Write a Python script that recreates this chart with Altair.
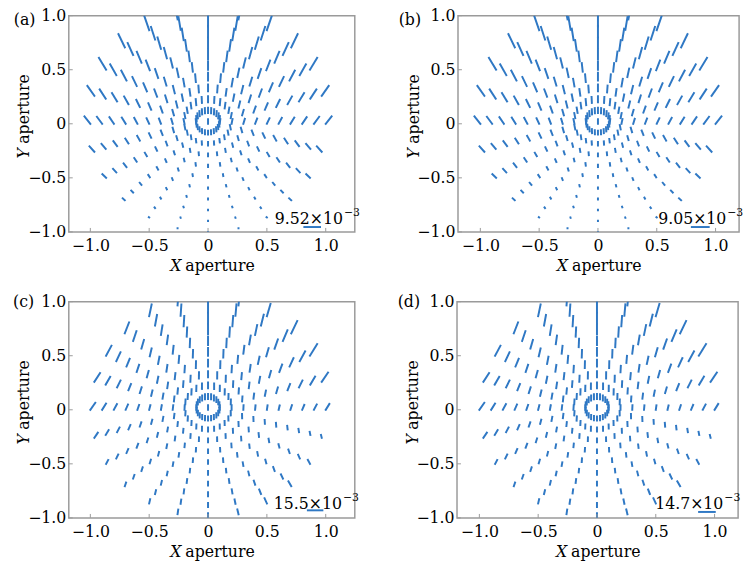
import math
import altair as alt
import pandas as pd

# ---------------- data ----------------
RINGS = [0.1, 0.2, 0.3, 0.4, 0.5, 0.6, 0.7, 0.8, 0.9, 1.0]
SPOKES = list(range(0, 360, 15))          # field angle of each column (deg)
TICKS = [-1.0, -0.5, 0.0, 0.5, 1.0]

# astigmatism components (cos2phi, sin2phi) in display units; rows = rings, cols = spokes
# panels (a) and (b)
AB_C1 = [
    [-5.0, -5.2, -5.4, -5.5, -5.7, -5.7, -5.8, -5.7, -5.7, -5.5, -5.4, -5.2, -5.0, -4.8, -4.6, -4.5, -4.4, -4.3, -4.3, -4.3, -4.4, -4.5, -4.6, -4.8],
    [-4.9, -5.3, -5.7, -6.1, -6.4, -6.5, -6.6, -6.5, -6.4, -6.1, -5.7, -5.3, -4.9, -4.5, -4.2, -4.0, -3.8, -3.6, -3.6, -3.6, -3.8, -4.0, -4.2, -4.5],
    [-4.8, -5.4, -6.1, -6.6, -7.1, -7.4, -7.5, -7.4, -7.1, -6.6, -6.1, -5.4, -4.8, -4.3, -3.8, -3.4, -3.2, -3.0, -3.0, -3.0, -3.2, -3.4, -3.8, -4.3],
    [-4.7, -5.5, -6.4, -7.2, -7.8, -8.3, -8.4, -8.3, -7.8, -7.2, -6.4, -5.5, -4.7, -4.0, -3.4, -2.9, -2.6, -2.5, -2.4, -2.5, -2.6, -2.9, -3.4, -4.0],
    [-4.5, -5.5, -6.7, -7.7, -8.6, -9.2, -9.4, -9.2, -8.6, -7.7, -6.7, -5.5, -4.5, -3.6, -2.9, -2.4, -2.1, -1.9, -1.9, -1.9, -2.1, -2.4, -2.9, -3.6],
    [-4.3, -5.6, -6.9, -8.3, -9.4, -10.1, -10.4, -10.1, -9.4, -8.3, -6.9, -5.6, -4.3, -3.2, -2.4, -1.9, -1.6, -1.4, -1.4, -1.4, -1.6, -1.9, -2.4, -3.2],
    [-4.0, -5.5, -7.2, -8.8, -10.2, -11.2, -11.5, -11.2, -10.2, -8.8, -7.2, -5.5, -4.0, -2.8, -2.0, -1.4, -1.1, -1.0, -1.0, -1.0, -1.1, -1.4, -2.0, -2.8],
    [-3.7, -5.5, -7.4, -9.4, -11.1, -12.2, -12.6, -12.2, -11.1, -9.4, -7.4, -5.5, -3.7, -2.4, -1.4, -0.9, -0.7, -0.6, -0.6, -0.6, -0.7, -0.9, -1.4, -2.4],
    [-3.4, -5.4, -7.7, -10.0, -12.0, -13.3, -13.8, -13.3, -12.0, -10.0, -7.7, -5.4, -3.4, -1.9, -0.9, -0.4, -0.3, -0.3, -0.3, -0.3, -0.3, -0.4, -0.9, -1.9],
    [-3.0, -5.2, -7.9, -10.6, -12.9, -14.5, -15.0, -14.5, -12.9, -10.6, -7.9, -5.2, -3.0, -1.4, -0.4, 0.0, 0.1, 0.0, 0.0, 0.0, 0.1, 0.0, -0.4, -1.4],
]
AB_C2 = [
    [1.0, 1.0, 0.9, 0.7, 0.5, 0.3, 0.0, -0.3, -0.5, -0.7, -0.9, -1.0, -1.0, -0.9, -0.8, -0.6, -0.4, -0.2, 0.0, -0.2, -0.4, -0.6, -0.8, -0.9],
    [1.9, 1.9, 1.8, 1.5, 1.1, 0.6, 0.0, -0.6, -1.1, -1.5, -1.8, -1.9, -1.9, -1.7, -1.5, -1.1, -0.8, -0.4, 0.0, -0.4, -0.8, -1.1, -1.5, -1.7],
    [2.9, 3.0, 2.9, 2.5, 1.8, 1.0, 0.0, -1.0, -1.8, -2.5, -2.9, -3.0, -2.9, -2.5, -2.1, -1.6, -1.0, -0.5, 0.0, -0.5, -1.0, -1.6, -2.1, -2.5],
    [3.8, 4.1, 4.0, 3.5, 2.6, 1.4, 0.0, -1.4, -2.6, -3.5, -4.0, -4.1, -3.8, -3.3, -2.6, -1.9, -1.2, -0.6, 0.0, -0.6, -1.2, -1.9, -2.6, -3.3],
    [4.8, 5.2, 5.2, 4.6, 3.5, 1.9, 0.0, -1.9, -3.5, -4.6, -5.2, -5.2, -4.8, -4.0, -3.1, -2.2, -1.3, -0.6, 0.0, -0.6, -1.3, -2.2, -3.1, -4.0],
    [5.7, 6.4, 6.5, 5.8, 4.4, 2.4, 0.0, -2.4, -4.4, -5.8, -6.5, -6.4, -5.7, -4.7, -3.6, -2.4, -1.3, -0.6, 0.0, -0.6, -1.3, -2.4, -3.6, -4.7],
    [6.7, 7.7, 7.9, 7.2, 5.5, 3.0, 0.0, -3.0, -5.5, -7.2, -7.9, -7.7, -6.7, -5.4, -4.1, -2.6, -1.2, -0.5, 0.0, -0.5, -1.2, -2.6, -4.1, -5.4],
    [7.6, 8.9, 9.4, 8.6, 6.6, 3.6, 0.0, -3.6, -6.6, -8.6, -9.4, -8.9, -7.6, -6.1, -4.6, -2.8, -1.0, -0.4, 0.0, -0.4, -1.0, -2.8, -4.6, -6.1],
    [8.6, 10.3, 10.9, 10.1, 7.8, 4.2, 0.0, -4.2, -7.8, -10.1, -10.9, -10.3, -8.6, -6.8, -5.0, -2.9, -0.8, -0.2, 0.0, -0.2, -0.8, -2.9, -5.0, -6.8],
    [9.5, 11.7, 12.6, 11.7, 9.1, 5.0, 0.0, -5.0, -9.1, -11.7, -12.6, -11.7, -9.5, -7.5, -5.5, -3.0, -0.4, 0.0, 0.0, 0.0, -0.4, -3.0, -5.5, -7.5],
]
AB_CENTER = [-5.0, 0.0]

# panels (c) and (d)
CD_C1 = [
    [-5.0, -5.1, -5.2, -5.3, -5.4, -5.5, -5.5, -5.5, -5.4, -5.3, -5.2, -5.1, -5.0, -4.9, -4.8, -4.7, -4.6, -4.6, -4.6, -4.6, -4.6, -4.7, -4.8, -4.9],
    [-5.0, -5.2, -5.5, -5.7, -5.9, -6.0, -6.1, -6.0, -5.9, -5.7, -5.5, -5.2, -5.0, -4.7, -4.6, -4.4, -4.3, -4.3, -4.3, -4.3, -4.3, -4.4, -4.6, -4.7],
    [-4.9, -5.3, -5.7, -6.1, -6.5, -6.7, -6.8, -6.7, -6.5, -6.1, -5.7, -5.3, -4.9, -4.6, -4.3, -4.2, -4.1, -4.1, -4.1, -4.1, -4.1, -4.2, -4.3, -4.6],
    [-4.8, -5.3, -5.9, -6.5, -7.1, -7.4, -7.5, -7.4, -7.1, -6.5, -5.9, -5.3, -4.8, -4.4, -4.1, -4.0, -3.9, -3.9, -3.9, -3.9, -3.9, -4.0, -4.1, -4.4],
    [-4.7, -5.4, -6.2, -7.0, -7.7, -8.2, -8.4, -8.2, -7.7, -7.0, -6.2, -5.4, -4.7, -4.2, -3.9, -3.8, -3.8, -3.9, -3.9, -3.9, -3.8, -3.8, -3.9, -4.2],
    [-4.5, -5.4, -6.4, -7.5, -8.4, -9.1, -9.3, -9.1, -8.4, -7.5, -6.4, -5.4, -4.5, -4.0, -3.7, -3.7, -3.8, -3.9, -3.9, -3.9, -3.8, -3.7, -3.7, -4.0],
    [-4.4, -5.4, -6.7, -8.0, -9.2, -10.1, -10.4, -10.1, -9.2, -8.0, -6.7, -5.4, -4.4, -3.7, -3.5, -3.6, -3.8, -4.0, -4.1, -4.0, -3.8, -3.6, -3.5, -3.7],
    [-4.2, -5.4, -6.9, -8.6, -10.1, -11.1, -11.5, -11.1, -10.1, -8.6, -6.9, -5.4, -4.2, -3.5, -3.3, -3.5, -3.8, -4.2, -4.3, -4.2, -3.8, -3.5, -3.3, -3.5],
    [-4.0, -5.3, -7.2, -9.2, -11.0, -12.3, -12.7, -12.3, -11.0, -9.2, -7.2, -5.3, -4.0, -3.2, -3.1, -3.4, -4.0, -4.4, -4.6, -4.4, -4.0, -3.4, -3.1, -3.2],
    [-3.7, -5.3, -7.4, -9.8, -12.0, -13.5, -14.0, -13.5, -12.0, -9.8, -7.4, -5.3, -3.7, -2.9, -2.9, -3.4, -4.2, -4.8, -5.0, -4.8, -4.2, -3.4, -2.9, -2.9],
]
CD_C2 = [
    [0.0, 0.0, 0.0, 0.0, 0.0, 0.0, 0.0, 0.0, 0.1, 0.2, 0.2, 0.2, 0.2, 0.2, 0.2, 0.1, 0.1, 0.1, 0.0, 0.0, -0.1, -0.1, -0.1, -0.1],
    [0.1, 0.2, 0.2, 0.2, 0.1, 0.0, 0.0, 0.1, 0.3, 0.4, 0.5, 0.5, 0.5, 0.5, 0.5, 0.4, 0.3, 0.1, 0.0, -0.1, -0.2, -0.2, -0.2, -0.1],
    [0.4, 0.6, 0.6, 0.5, 0.3, 0.1, 0.0, 0.2, 0.5, 0.8, 1.0, 1.0, 1.0, 1.0, 0.8, 0.7, 0.5, 0.2, 0.0, -0.2, -0.3, -0.3, -0.3, -0.2],
    [0.8, 1.2, 1.3, 1.1, 0.7, 0.3, 0.0, 0.3, 0.8, 1.3, 1.6, 1.7, 1.6, 1.5, 1.3, 1.0, 0.7, 0.4, 0.0, -0.3, -0.5, -0.5, -0.5, -0.3],
    [1.3, 2.0, 2.2, 1.9, 1.2, 0.5, 0.0, 0.5, 1.2, 1.9, 2.4, 2.5, 2.3, 2.1, 1.8, 1.4, 1.0, 0.5, 0.0, -0.5, -0.8, -0.8, -0.8, -0.4],
    [2.0, 3.1, 3.5, 3.0, 2.0, 0.8, 0.0, 0.7, 1.7, 2.7, 3.4, 3.5, 3.2, 2.8, 2.3, 1.8, 1.2, 0.7, 0.0, -0.7, -1.2, -1.3, -1.2, -0.6],
    [2.9, 4.6, 5.2, 4.5, 2.9, 1.1, 0.0, 0.9, 2.3, 3.6, 4.6, 4.7, 4.3, 3.6, 2.8, 2.1, 1.5, 0.9, 0.0, -1.0, -1.8, -1.9, -1.7, -0.8],
    [3.9, 6.3, 7.2, 6.2, 4.0, 1.5, 0.0, 1.2, 3.0, 4.8, 6.0, 6.2, 5.5, 4.4, 3.2, 2.3, 1.7, 1.0, 0.0, -1.3, -2.5, -2.7, -2.3, -1.0],
    [5.0, 8.3, 9.6, 8.4, 5.3, 2.0, 0.0, 1.5, 3.8, 6.3, 7.7, 7.9, 6.8, 5.1, 3.5, 2.4, 1.8, 1.2, 0.0, -1.7, -3.3, -3.7, -3.0, -1.2],
    [6.3, 10.7, 12.5, 10.9, 7.0, 2.6, 0.0, 1.8, 4.8, 8.0, 9.6, 9.8, 8.3, 5.9, 3.7, 2.4, 1.9, 1.3, 0.0, -2.2, -4.3, -5.0, -3.8, -1.4],
]
CD_CENTER = [-5.0, 0.0]

PANELS = ["(a)", "(b)", "(c)", "(d)"]
BAR_VALUES = ["9.52", "9.05", "15.5", "14.7"]

# ---------------- style ----------------
BLUE = "#2f78c4"
GRAY = "#9a9a9a"
FONT = "DejaVu Serif"
FS = 16
S = 1 / 118.0          # display units -> aperture units
H = 220
LABEL_EXPR = "datum.value == 0 ? '0' : format(datum.value, '.1f')"


def field_frame(c1_rows, c2_rows, center):
    pts = [(0.0, 0.0, center[0], center[1])]
    for i, r in enumerate(RINGS):
        for j, th in enumerate(SPOKES):
            t = math.radians(th)
            pts.append((r * math.cos(t), r * math.sin(t), c1_rows[i][j], c2_rows[i][j]))
    rows = []
    for x, y, c1, c2 in pts:
        L = math.hypot(c1, c2)
        phi = 0.5 * math.atan2(c2, c1)
        if phi < 0:
            phi += math.pi
        rows.append(dict(x=x, y=y, x2=x + L * S * math.cos(phi), y2=y + L * S * math.sin(phi)))
    return pd.DataFrame(rows)


def panel(tag, bar_text, df, W, xdom, bar, ann):
    xs = alt.Scale(domain=xdom, nice=False, zero=False)
    ys = alt.Scale(domain=[-1, 1], nice=False, zero=False)
    xax = alt.Axis(values=TICKS, labelExpr=LABEL_EXPR, ticks=False, domain=False, grid=False,
                   title=None, labelFont=FONT, labelFontSize=FS, labelColor="black",
                   labelPadding=6, labelFlush=False)
    yax = alt.Axis(values=TICKS, labelExpr=LABEL_EXPR, ticks=False, domain=False, grid=False,
                   title=None, labelFont=FONT, labelFontSize=FS, labelColor="black",
                   labelPadding=3, labelFlush=False)
    seg = alt.Chart(df).mark_rule(color=BLUE, strokeWidth=2, clip=True, strokeCap="square").encode(
        x=alt.X("x:Q", scale=xs, axis=xax), y=alt.Y("y:Q", scale=ys, axis=yax),
        x2="x2:Q", y2="y2:Q")
    tk = pd.DataFrame({"v": TICKS})
    xt = alt.Chart(tk).mark_rule(color=GRAY, strokeWidth=1).encode(
        x=alt.X("v:Q", scale=xs, axis=xax), y=alt.value(H), y2=alt.value(H - 4))
    yt = alt.Chart(tk).mark_rule(color=GRAY, strokeWidth=1).encode(
        y=alt.Y("v:Q", scale=ys, axis=yax), x=alt.value(0), x2=alt.value(4))
    bdf = pd.DataFrame({"x": [bar[0]], "x2": [bar[1]], "y": [bar[2]]})
    barm = alt.Chart(bdf).mark_rule(color=BLUE, strokeWidth=2).encode(
        x=alt.X("x:Q", scale=xs, axis=xax), x2="x2:Q", y=alt.Y("y:Q", scale=ys, axis=yax))

    def txt(t, px, py, size=FS, style="normal", align="center", angle=0):
        return alt.Chart(pd.DataFrame({"t": [t]})).mark_text(
            font=FONT, fontSize=size, fontStyle=style, align=align, baseline="middle",
            angle=angle, color="black").encode(x=alt.value(px), y=alt.value(py), text="t:N")

    layers = [seg, barm, xt, yt,
              txt(tag, ann["tag"][0], ann["tag"][1]),
              txt(bar_text + "\u00d710", ann["bt"][0], ann["bt"][1], align="right"),
              txt("\u22123", ann["bt"][0] + 1, ann["bt"][1] - 6, size=11, align="left"),
              txt("X", W / 2 - 31, 255, style="italic", align="right"),
              txt("aperture", W / 2 - 27, 255, align="left"),
              txt("Y", -45, 140, style="italic", angle=270),
              txt("aperture", -45, 95, angle=270)]
    return alt.layer(*layers).properties(width=W, height=H)


WL, WR = 291, 286
XL, XR = [-1.183, 1.247], [-1.19, 1.20]

df_ab = field_frame(AB_C1, AB_C2, AB_CENTER)
df_cd = field_frame(CD_C1, CD_C2, CD_CENTER)

pa = panel(PANELS[0], BAR_VALUES[0], df_ab, WL, XL, [0.81, 0.96, -0.955],
           {"tag": (-45, 4), "bt": (279, 207)})
pb = panel(PANELS[1], BAR_VALUES[1], df_ab, WR, XR, [0.79, 0.95, -0.955],
           {"tag": (-49, 4), "bt": (273, 207)})
pc = panel(PANELS[2], BAR_VALUES[2], df_cd, WL, XL, [0.84, 0.98, -0.93],
           {"tag": (-46, 0), "bt": (278, 206)})
pd_ = panel(PANELS[3], BAR_VALUES[3], df_cd, WR, XR, [0.86, 1.01, -0.945],
            {"tag": (-49, 0), "bt": (271, 206)})

chart = alt.vconcat(
    alt.hconcat(pa, pb, spacing=37),
    alt.hconcat(pc, pd_, spacing=37),
    spacing=18,
).properties(
    padding={"left": 12, "top": 2, "right": 0, "bottom": 0}, background="white"
).configure_view(stroke=GRAY, strokeWidth=1.5)

chart.save("out.html", embed_options={"renderer": "svg", "actions": False})
